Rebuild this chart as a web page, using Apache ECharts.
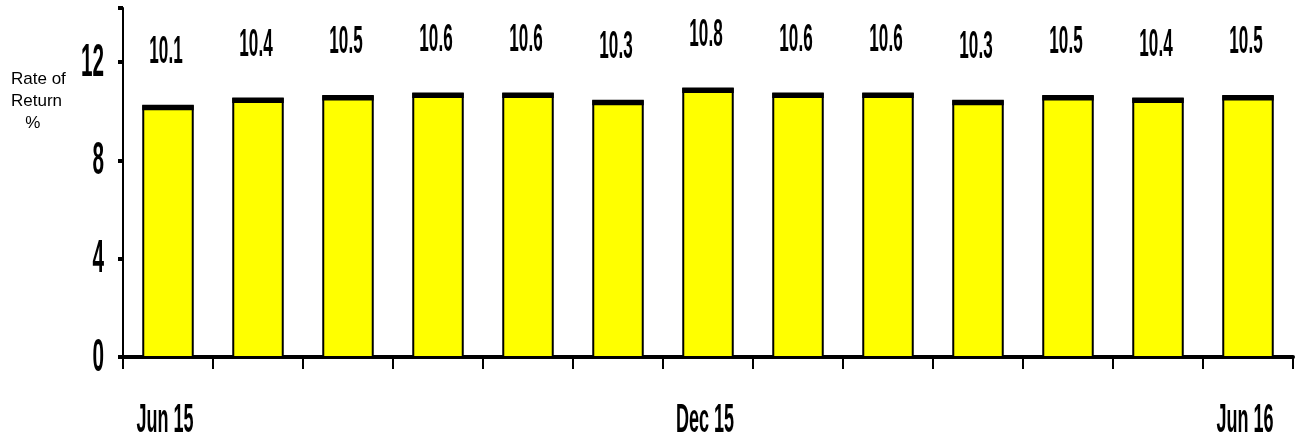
<!DOCTYPE html>
<html>
<head>
<meta charset="utf-8">
<script src="https://cdn.jsdelivr.net/npm/echarts@6/dist/echarts.min.js"></script>
<style>html,body{margin:0;padding:0;background:#fff}#c{width:1299px;height:442px}</style>
</head>
<body>
<div id="c"></div>
<script>
const categories = ["Jun 15","Jul 15","Aug 15","Sep 15","Oct 15","Nov 15","Dec 15","Jan 16","Feb 16","Mar 16","Apr 16","May 16","Jun 16"];
const values = [10.1,10.4,10.5,10.6,10.6,10.3,10.8,10.6,10.6,10.3,10.5,10.4,10.5];
const yTicks = [0,4,8,12];
const shownXLabels = [0,6,12];

const FONT = '"Liberation Sans",Arial,sans-serif';
const SX = 0.45;
const chart = echarts.init(document.getElementById('c'), null, {renderer:'canvas'});
chart.setOption({
  animation:false,
  backgroundColor:'#fff',
  title:{
    text:'Rate of\nReturn\n   %',
    left:6, top:63,
    textStyle:{fontFamily:FONT,fontSize:17,fontWeight:'normal',color:'#000',lineHeight:22}
  },
  grid:{left:123,right:6,top:8,bottom:85},
  xAxis:{
    type:'category',
    data:categories,
    boundaryGap:true,
    axisLine:{lineStyle:{color:'#000',width:4}},
    axisTick:{show:true,interval:0,length:12,lineStyle:{color:'#000',width:2}},
    axisLabel:{show:false}
  },
  yAxis:{
    type:'value',
    min:0,max:14.2,interval:4,
    splitLine:{show:false},
    axisLine:{show:true,lineStyle:{color:'#000',width:2}},
    axisTick:{show:true,length:5,lineStyle:{color:'#000',width:4}},
    axisLabel:{show:false}
  },
  series:[{
    type:'custom',
    silent:true,
    data:values.map((v,i)=>[i,v]),
    encode:{x:0,y:1},
    renderItem:function(params,api){
      const i=api.value(0), v=api.value(1);
      const base=api.coord([i,0]);
      const top=api.coord([i,v]);
      const bw=api.size([1,0])[0];
      const w=bw*0.55;
      const x0=base[0]-w/2;
      const capTop=top[1]-3;
      return {type:'group',children:[
        {type:'rect',shape:{x:x0,y:capTop,width:w,height:base[1]-capTop},style:{fill:'#ffff00',stroke:'#000',lineWidth:2}},
        {type:'rect',shape:{x:x0-1,y:capTop-0.5,width:w+2,height:5},style:{fill:'#000'}},
        {type:'text',x:base[0]-2,y:capTop-53,scaleX:SX,style:{text:String(v),x:0,y:0,align:'center',verticalAlign:'middle',
          fill:'#000',font:'bold 38px '+FONT}}
      ]};
    }
  },{
    type:'custom',
    silent:true,
    data:yTicks.map(v=>[0,v]),
    encode:{x:0,y:1},
    renderItem:function(params,api){
      const p=api.coord([0,api.value(1)]);
      return {type:'text',x:params.coordSys.x-19,y:p[1]+1,scaleX:SX,
        style:{text:String(api.value(1)),x:0,y:0,align:'right',verticalAlign:'middle',fill:'#000',font:'bold 46px '+FONT}};
    }
  },{
    type:'custom',
    silent:true,
    data:shownXLabels.map(i=>[i,0]),
    encode:{x:0,y:1},
    renderItem:function(params,api){
      const i=api.value(0);
      const p=api.coord([i,0]);
      return {type:'text',x:p[0]-3,y:p[1]+64,scaleX:SX,
        style:{text:categories[i],x:0,y:0,align:'center',verticalAlign:'middle',fill:'#000',font:'bold 40px '+FONT}};
    }
  }]
});
</script>
</body>
</html>
